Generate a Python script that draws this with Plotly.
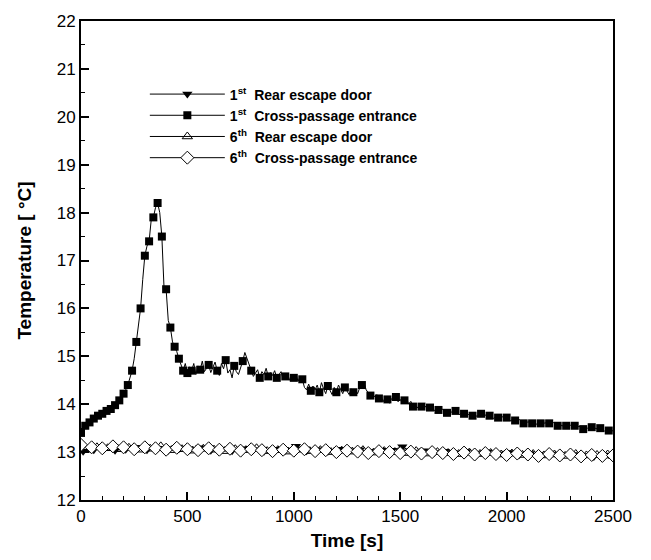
import plotly.graph_objects as go

# ---------------- data ----------------
time_cp1 = list(range(0, 2501, 10))
temp_cp1 = [
    13.40, 13.48, 13.55, 13.50, 13.62, 13.58, 13.70, 13.80, 13.76, 13.85,
    13.80, 13.90, 13.86, 13.93, 13.90, 13.96, 13.98, 14.05, 14.08, 14.15,
    14.22, 14.30, 14.40, 14.55, 14.70, 14.95, 15.30, 15.65, 16.00, 16.60,
    17.10, 17.30, 17.40, 17.85, 17.90, 18.10, 18.20, 18.00, 17.50, 16.45,
    16.40, 15.75, 15.60, 15.30, 15.20, 15.10, 14.95, 14.80, 14.70, 14.85,
    14.65, 14.78, 14.70, 14.85, 14.62, 14.80, 14.72, 14.90, 14.68, 14.75,
    14.82, 14.66, 14.78, 14.88, 14.70, 14.60, 14.85, 14.74, 14.92, 14.65,
    14.72, 14.55, 14.80, 14.68, 14.62, 14.75, 14.90, 15.08, 14.95, 14.85,
    14.70, 14.58, 14.65, 14.72, 14.55, 14.68, 14.62, 14.75, 14.58, 14.66,
    14.60, 14.70, 14.55, 14.62, 14.68, 14.52, 14.58, 14.65, 14.50, 14.60,
    14.55, 14.62, 14.48, 14.58, 14.52, 14.35, 14.30, 14.42, 14.28, 14.38,
    14.30, 14.40, 14.25, 14.45, 14.32, 14.22, 14.38, 14.28, 14.20, 14.35,
    14.25, 14.40, 14.30, 14.22, 14.35, 14.28, 14.20, 14.32, 14.25, 14.30,
    14.22, 14.35, 14.40, 14.45, 14.30, 14.25, 14.18, 14.22, 14.15, 14.20,
    14.12, 14.18, 14.05, 14.15, 14.10, 14.02, 14.12, 14.08, 14.15, 14.05,
    14.10, 14.02, 14.08, 14.12, 14.00, 14.06, 13.95, 14.00, 13.92, 13.98,
    13.95, 13.90, 13.96, 13.88, 13.93, 13.90, 13.86, 13.92, 13.88, 13.85,
    13.90, 13.86, 13.82, 13.88, 13.84, 13.80, 13.86, 13.82, 13.78, 13.84,
    13.80, 13.84, 13.78, 13.82, 13.76, 13.80, 13.74, 13.78, 13.80, 13.75,
    13.78, 13.72, 13.76, 13.74, 13.70, 13.75, 13.72, 13.68, 13.74, 13.70,
    13.72, 13.68, 13.65, 13.70, 13.66, 13.62, 13.68, 13.64, 13.60, 13.66,
    13.62, 13.65, 13.60, 13.64, 13.58, 13.62, 13.60, 13.56, 13.62, 13.58,
    13.60, 13.56, 13.62, 13.58, 13.55, 13.60, 13.54, 13.58, 13.55, 13.52,
    13.56, 13.52, 13.55, 13.50, 13.54, 13.52, 13.48, 13.53, 13.50, 13.48,
    13.52, 13.48, 13.50, 13.46, 13.50, 13.47, 13.44, 13.48, 13.45, 13.46,
    13.44,
]

time_rear1 = list(range(10, 2500, 50))
temp_rear1 = [
    13.02, 13.05, 13.08, 13.04, 13.06, 13.10, 13.05, 13.08, 13.04, 13.07,
    13.05, 13.09, 13.04, 13.06, 13.03, 13.07, 13.05, 13.02, 13.06, 13.04,
    13.12, 13.03, 13.05, 13.02, 13.06, 13.03, 13.05, 13.01, 13.04, 13.04,
    13.11, 13.00, 13.03, 12.99, 13.02, 12.98, 13.01, 12.97, 13.00, 12.96,
    12.99, 12.95, 12.97, 12.94, 12.96, 12.92, 12.95, 12.93, 12.91, 12.94,
]

time_rear6 = list(range(25, 2500, 50)) + [2500]
temp_rear6 = [
    13.05, 13.10, 13.08, 13.06, 13.09, 13.05, 13.07, 13.12, 13.04, 13.06,
    13.03, 13.07, 13.05, 13.02, 13.06, 13.04, 13.08, 13.02, 13.04, 13.01,
    13.05, 13.02, 13.04, 13.00, 13.03, 13.01, 13.04, 12.99, 13.02, 13.00,
    12.98, 13.02, 12.97, 13.00, 12.98, 12.96, 12.99, 12.96, 12.98, 12.95,
    12.97, 12.94, 12.96, 12.93, 12.95, 12.92, 12.96, 12.93, 12.94, 12.95,
    12.92,
]

time_cp6 = list(range(0, 2501, 50))
temp_cp6 = [
    13.15, 13.10, 13.08, 13.12, 13.10, 13.06, 13.10, 13.08, 13.05, 13.09,
    13.06, 13.04, 13.08, 13.05, 13.07, 13.03, 13.06, 13.04, 13.02, 13.05,
    13.03, 13.06, 13.02, 13.04, 13.00, 13.03, 13.01, 12.98, 13.02, 13.00,
    12.98, 13.01, 12.97, 13.00, 12.98, 12.96, 12.99, 12.95, 12.98, 12.96,
    12.94, 12.97, 12.95, 12.92, 12.96, 12.93, 12.95, 12.91, 12.94, 12.92,
    12.93,
]

names = [
    "1<sup>st</sup>  Rear escape door",
    "1<sup>st</sup>  Cross-passage entrance",
    "6<sup>th</sup>  Rear escape door",
    "6<sup>th</sup>  Cross-passage entrance",
]

x_ticks = [0, 500, 1000, 1500, 2000, 2500]
y_ticks = [12, 13, 14, 15, 16, 17, 18, 19, 20, 21, 22]

# ---------------- figure ----------------
fig = go.Figure()

LINE = dict(color="black", width=1)
FONT = "Liberation Sans, Arial, sans-serif"

mk_idx = [i for i, t in enumerate(time_cp1)
          if (t <= 500 and i % 2 == 0) or (t > 500 and i % 4 == 0)]

fig.add_trace(go.Scatter(x=time_cp1, y=temp_cp1, mode="lines", line=LINE,
                         showlegend=False, hoverinfo="skip"))
fig.add_trace(go.Scatter(x=[time_cp1[i] for i in mk_idx], y=[temp_cp1[i] for i in mk_idx],
                         mode="markers", showlegend=False,
                         marker=dict(symbol="square", size=8, color="black")))

fig.add_trace(go.Scatter(x=time_rear1, y=temp_rear1, mode="lines+markers", line=LINE,
                         showlegend=False,
                         marker=dict(symbol="triangle-down", size=9, color="black")))
fig.add_trace(go.Scatter(x=time_rear6, y=temp_rear6, mode="lines+markers", line=LINE,
                         showlegend=False,
                         marker=dict(symbol="triangle-up-open", size=9, color="black",
                                     line=dict(width=1))))
fig.add_trace(go.Scatter(x=time_cp6, y=temp_cp6, mode="lines+markers", line=LINE,
                         showlegend=False,
                         marker=dict(symbol="diamond", size=10, color="white",
                                     line=dict(width=1, color="black"))))

leg_markers = [
    dict(symbol="triangle-down", size=9, color="black"),
    dict(symbol="square", size=8, color="black"),
    dict(symbol="triangle-up-open", size=9, color="black", line=dict(width=1)),
    dict(symbol="diamond", size=10, color="white", line=dict(width=1, color="black")),
]
for nm, mk in zip(names, leg_markers):
    fig.add_trace(go.Scatter(x=[None], y=[None], mode="lines+markers", name=nm,
                             line=LINE, marker=mk))

axis_common = dict(
    showline=True, linecolor="black", linewidth=2, mirror=True,
    ticks="inside", ticklen=8, tickwidth=1.5, tickcolor="black",
    showgrid=False, zeroline=False,
    tickfont=dict(family=FONT, size=17, color="black"),
)

fig.update_xaxes(
    range=[0, 2500], tickvals=x_ticks, ticktext=[str(v) for v in x_ticks],
    minor=dict(ticks="inside", ticklen=4, tickwidth=1, tickcolor="black", dtick=100, tick0=0),
    title=dict(text="<b>Time [s]</b>", font=dict(family=FONT, size=19, color="black"),
               standoff=8),
    **axis_common,
)
fig.update_yaxes(
    range=[12, 22], tickvals=y_ticks, ticktext=[str(v) for v in y_ticks],
    minor=dict(ticks="inside", ticklen=4, tickwidth=1, tickcolor="black", dtick=0.5, tick0=0),
    title=dict(text="<b>Temperature [ °C]</b>", font=dict(family=FONT, size=19, color="black"),
               standoff=20),
    **axis_common,
)

fig.update_layout(
    width=651, height=560,
    margin=dict(l=81, r=38, t=16, b=59),
    plot_bgcolor="white", paper_bgcolor="white",
    legend=dict(
        x=0.12, y=0.88, xanchor="left", yanchor="top",
        bgcolor="rgba(0,0,0,0)", borderwidth=0,
        font=dict(family=FONT, size=14, color="black", weight="bold"),
        itemwidth=75, tracegroupgap=0,
    ),
)

fig.write_html("out.html")
